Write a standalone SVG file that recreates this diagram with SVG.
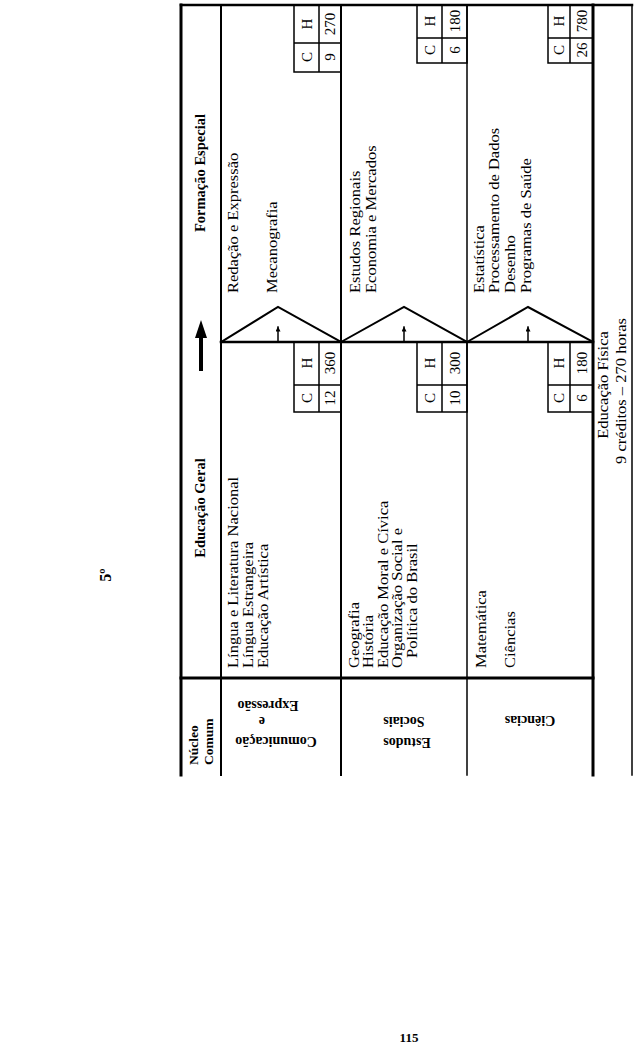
<svg xmlns="http://www.w3.org/2000/svg" width="636" height="1054" viewBox="0 0 636 1054">
<style>
text{font-family:"Liberation Serif","Times New Roman",serif;fill:#000}
.t{font-size:14.5px}
.h{font-size:14.5px;font-weight:bold}
.n{font-size:13.5px;font-weight:bold}
.r{font-size:14px;font-weight:bold}
.c{font-size:15px;text-anchor:middle;dominant-baseline:central}
.ln{stroke:#000;fill:none;stroke-linecap:square}
.box{stroke:#000;fill:none;stroke-width:1.5}
</style>
<defs>
<marker id="ah" viewBox="0 0 10 10" refX="9" refY="5" markerWidth="5" markerHeight="5" orient="auto" markerUnits="userSpaceOnUse"><path d="M0,0 L10,5 L0,10 z" fill="#000"/></marker>
</defs>
<rect width="636" height="1054" fill="#fff"/>

<g id="connectors">
<path class="ln" stroke-width="2.5" d="M181,5 H632"/>
<path class="ln" stroke-width="3" d="M181,5 V775"/>
<path class="ln" stroke-width="2" d="M221,5 V775"/>
<path class="ln" stroke-width="2" d="M341,5 V775"/>
<path class="ln" stroke-width="1.5" d="M467,5 V775"/>
<path class="ln" stroke-width="3" d="M593,5 V775"/>
<path class="ln" stroke-width="1.5" d="M632,5 V775"/>
<path class="ln" stroke-width="3" d="M181,678 H593"/>
<path class="ln" stroke-width="2.5" d="M221,342 H593"/>
<polyline class="ln" stroke-width="2" points="221,342 278,307 341,342"/>
<polyline class="ln" stroke-width="2" points="341,342 404,307 467,342"/>
<polyline class="ln" stroke-width="2" points="467,342 528,307 593,342"/>
<path class="ln" stroke-width="1.5" d="M278,342 V327" marker-end="url(#ah)"/>
<path class="ln" stroke-width="1.5" d="M404,342 V327" marker-end="url(#ah)"/>
<path class="ln" stroke-width="1.5" d="M528,342 V327" marker-end="url(#ah)"/>
<path stroke="#000" stroke-width="4" d="M201,371 V336"/>
<path fill="#000" d="M195,338 L207,338 L201,320 z"/>
</g>

<g id="header">
<text class="h" text-anchor="middle" dominant-baseline="central" transform="translate(200,173) rotate(-90)">Formação Especial</text>
<text class="h" text-anchor="middle" dominant-baseline="central" transform="translate(200,508) rotate(-90)">Educação Geral</text>
<text class="n" transform="translate(198,765) rotate(-90)">Núcleo</text>
<text class="n" transform="translate(213,765) rotate(-90)">Comum</text>
</g>

<g id="row-comunicacao">
<text class="r" text-anchor="middle" dominant-baseline="central" transform="translate(276,741) rotate(180)">Comunicação</text>
<text class="r" text-anchor="middle" dominant-baseline="central" transform="translate(262,721) rotate(180)">e</text>
<text class="r" text-anchor="middle" dominant-baseline="central" transform="translate(268,705) rotate(180)">Expressão</text>
<text class="t" transform="translate(238,668) rotate(-90) scale(1.14,1)">Língua e Literatura Nacional</text>
<text class="t" transform="translate(253,668) rotate(-90) scale(1.14,1)">Língua Estrangeira</text>
<text class="t" transform="translate(268,668) rotate(-90) scale(1.14,1)">Educação Artística</text>
<text class="t" transform="translate(238,293) rotate(-90) scale(1.14,1)">Redação e Expressão</text>
<text class="t" transform="translate(277,293) rotate(-90) scale(1.14,1)">Mecanografia</text>
</g>

<g id="row-estudos">
<text class="r" text-anchor="middle" dominant-baseline="central" transform="translate(407,742) rotate(180)">Estudos</text>
<text class="r" text-anchor="middle" dominant-baseline="central" transform="translate(404,721) rotate(180)">Sociais</text>
<text class="t" transform="translate(359,668) rotate(-90) scale(1.14,1)">Geografia</text>
<text class="t" transform="translate(373,668) rotate(-90) scale(1.14,1)">História</text>
<text class="t" transform="translate(388,668) rotate(-90) scale(1.14,1)">Educação Moral e Cívica</text>
<text class="t" transform="translate(402,668) rotate(-90) scale(1.14,1)">Organização Social e</text>
<text class="t" transform="translate(417,658) rotate(-90) scale(1.14,1)">Política do Brasil</text>
<text class="t" transform="translate(360,293) rotate(-90) scale(1.14,1)">Estudos Regionais</text>
<text class="t" transform="translate(376,293) rotate(-90) scale(1.14,1)">Economia e Mercados</text>
</g>

<g id="row-ciencias">
<text class="r" text-anchor="middle" dominant-baseline="central" transform="translate(530,720) rotate(180)">Ciências</text>
<text class="t" transform="translate(486,668) rotate(-90) scale(1.14,1)">Matemática</text>
<text class="t" transform="translate(515,668) rotate(-90) scale(1.14,1)">Ciências</text>
<text class="t" transform="translate(484,293) rotate(-90) scale(1.14,1)">Estatística</text>
<text class="t" transform="translate(499,293) rotate(-90) scale(1.14,1)">Processamento de Dados</text>
<text class="t" transform="translate(515,293) rotate(-90) scale(1.14,1)">Desenho</text>
<text class="t" transform="translate(531,293) rotate(-90) scale(1.14,1)">Programas de Saúde</text>
</g>

<g id="box-cg-1">
<rect class="box" x="294" y="342" width="47" height="70"/>
<path class="box" d="M319,342 V412 M294,385 H341"/>
<text class="c" transform="translate(307,398) rotate(-90)">C</text>
<text class="c" transform="translate(307,363) rotate(-90)">H</text>
<text class="c" transform="translate(330,398) rotate(-90)">12</text>
<text class="c" transform="translate(330,363) rotate(-90)">360</text>
</g>
<g id="box-fe-1">
<rect class="box" x="294" y="5" width="47" height="67"/>
<path class="box" d="M319,5 V72 M294,43 H341"/>
<text class="c" transform="translate(307,57) rotate(-90)">C</text>
<text class="c" transform="translate(307,24) rotate(-90)">H</text>
<text class="c" transform="translate(330,57) rotate(-90)">9</text>
<text class="c" transform="translate(330,24) rotate(-90)">270</text>
</g>
<g id="box-cg-2">
<rect class="box" x="417" y="342" width="50" height="70"/>
<path class="box" d="M442,342 V412 M417,385 H467"/>
<text class="c" transform="translate(430,398) rotate(-90)">C</text>
<text class="c" transform="translate(430,363) rotate(-90)">H</text>
<text class="c" transform="translate(455,398) rotate(-90)">10</text>
<text class="c" transform="translate(455,363) rotate(-90)">300</text>
</g>
<g id="box-fe-2">
<rect class="box" x="417" y="5" width="50" height="58"/>
<path class="box" d="M442,5 V63 M417,38 H467"/>
<text class="c" transform="translate(430,50) rotate(-90)">C</text>
<text class="c" transform="translate(430,21) rotate(-90)">H</text>
<text class="c" transform="translate(455,50) rotate(-90)">6</text>
<text class="c" transform="translate(455,21) rotate(-90)">180</text>
</g>
<g id="box-cg-3">
<rect class="box" x="548" y="342" width="45" height="70"/>
<path class="box" d="M570,342 V412 M548,385 H593"/>
<text class="c" transform="translate(559,398) rotate(-90)">C</text>
<text class="c" transform="translate(559,363) rotate(-90)">H</text>
<text class="c" transform="translate(582,398) rotate(-90)">6</text>
<text class="c" transform="translate(582,363) rotate(-90)">180</text>
</g>
<g id="box-fe-3">
<rect class="box" x="548" y="5" width="45" height="58"/>
<path class="box" d="M570,5 V63 M548,38 H593"/>
<text class="c" transform="translate(559,50) rotate(-90)">C</text>
<text class="c" transform="translate(559,21) rotate(-90)">H</text>
<text class="c" transform="translate(582,50) rotate(-90)">26</text>
<text class="c" transform="translate(582,21) rotate(-90)">780</text>
</g>

<g id="educacao-fisica">
<text class="t" text-anchor="middle" dominant-baseline="central" transform="translate(603,385) rotate(-90) scale(1.14,1)">Educação Física</text>
<text class="t" text-anchor="middle" dominant-baseline="central" transform="translate(621,391) rotate(-90) scale(1.14,1)">9 créditos – 270 horas</text>
</g>

<g id="page">
<text font-size="16" font-weight="bold" text-anchor="middle" dominant-baseline="central" transform="translate(105,575) rotate(-90)">5º</text>
<text font-size="13" font-weight="bold" text-anchor="middle" x="409" y="1042">115</text>
</g>
</svg>
